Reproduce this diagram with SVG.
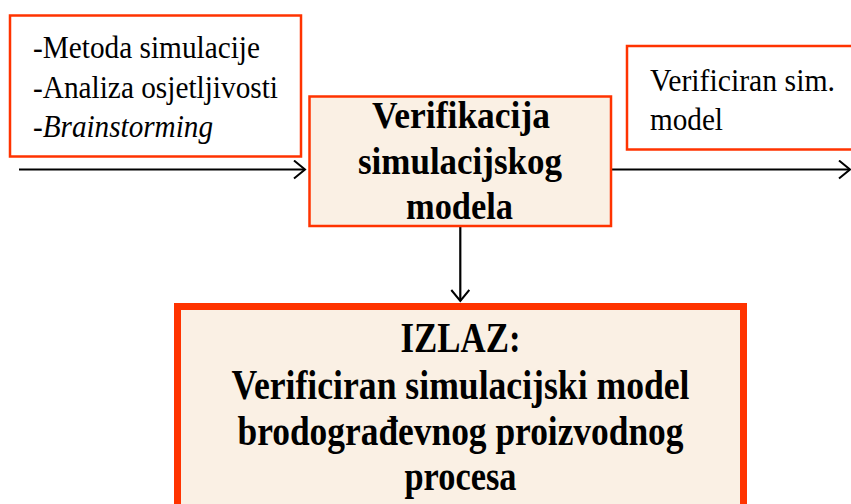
<svg xmlns="http://www.w3.org/2000/svg" width="851" height="504" viewBox="0 0 851 504">
<defs>
<style>
.box{fill:#ffffff;stroke:#ff3300;stroke-width:2.5}
.cbox{fill:#faf0e4;stroke:#ff3300;stroke-width:2.5}
.obox{fill:#faf0e4;stroke:#ff3300;stroke-width:7}
.t{font-family:"Liberation Serif","Times New Roman",serif;font-size:31px;fill:#000}
.b{font-family:"Liberation Serif","Times New Roman",serif;font-weight:bold;fill:#000}
.line{stroke:#000;stroke-width:2.2;fill:none}
</style>
<marker id="ah" markerUnits="userSpaceOnUse" markerWidth="16" markerHeight="22" refX="13" refY="10" orient="auto" viewBox="0 0 16 22">
<path d="M2,1 L13,10 L2,19" fill="none" stroke="#000" stroke-width="2"/>
</marker>
</defs>
<g id="connectors">
<line class="line" x1="19" y1="169.5" x2="305" y2="169.5" marker-end="url(#ah)"/>
<line class="line" x1="611" y1="169.5" x2="850" y2="169.5" marker-end="url(#ah)"/>
<line class="line" x1="460.3" y1="227" x2="460.3" y2="301" marker-end="url(#ah)"/>
</g>
<g id="input">
<rect class="box" x="10" y="15.5" width="291" height="141"/>
<text class="t" x="33" y="58" textLength="227" lengthAdjust="spacingAndGlyphs">-Metoda simulacije</text>
<text class="t" x="33" y="97.5" textLength="245" lengthAdjust="spacingAndGlyphs">-Analiza osjetljivosti</text>
<text class="t" x="33" y="137" textLength="180" lengthAdjust="spacingAndGlyphs">-<tspan font-style="italic">Brainstorming</tspan></text>
</g>
<g id="process">
<rect class="cbox" x="309.5" y="96.5" width="301.5" height="129.5"/>
<text class="b" font-size="37" x="372" y="127.5" textLength="178" lengthAdjust="spacingAndGlyphs">Verifikacija</text>
<text class="b" font-size="37" x="358" y="174" textLength="204" lengthAdjust="spacingAndGlyphs">simulacijskog</text>
<text class="b" font-size="37" x="406" y="219" textLength="107" lengthAdjust="spacingAndGlyphs">modela</text>
</g>
<g id="result">
<rect class="box" x="627" y="46" width="240" height="103.5"/>
<text class="t" x="650" y="91" textLength="185" lengthAdjust="spacingAndGlyphs">Verificiran sim.</text>
<text class="t" x="650" y="129.5" textLength="73" lengthAdjust="spacingAndGlyphs">model</text>
</g>
<g id="output">
<rect class="obox" x="177.5" y="306.5" width="566" height="210"/>
<text class="b" font-size="43" x="400.5" y="352" textLength="120" lengthAdjust="spacingAndGlyphs">IZLAZ:</text>
<text class="b" font-size="43" x="231.5" y="398.5" textLength="458" lengthAdjust="spacingAndGlyphs">Verificiran simulacijski model</text>
<text class="b" font-size="43" x="237.5" y="445" textLength="446" lengthAdjust="spacingAndGlyphs">brodograđevnog proizvodnog</text>
<text class="b" font-size="43" x="404.5" y="490" textLength="112" lengthAdjust="spacingAndGlyphs">procesa</text>
</g>
</svg>
